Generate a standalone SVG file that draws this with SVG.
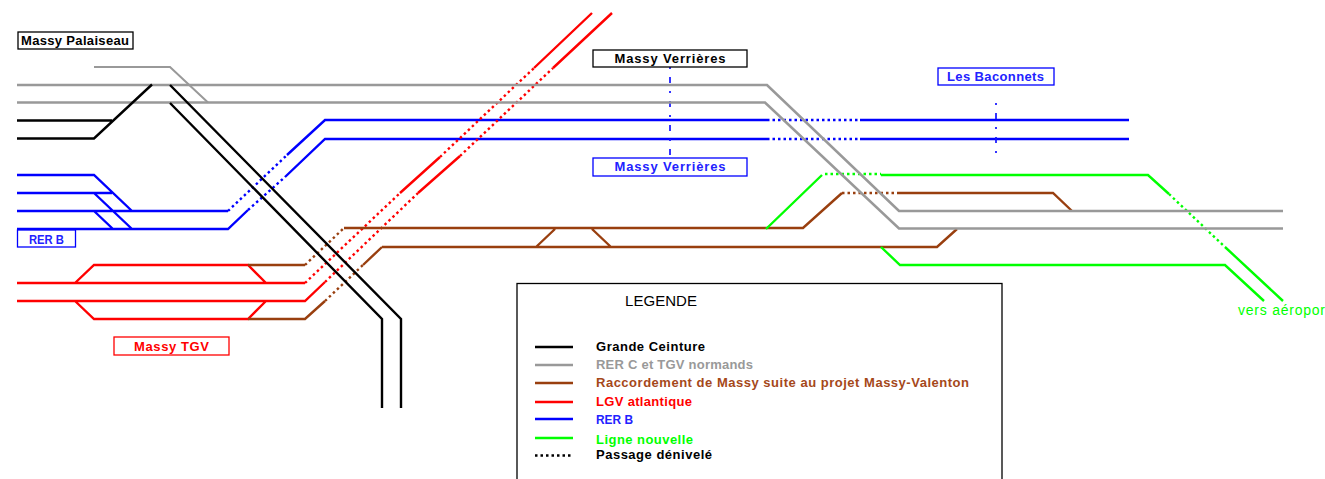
<svg xmlns="http://www.w3.org/2000/svg" width="1325" height="479" viewBox="0 0 1325 479">
<style>
text{font-family:"Liberation Sans",Arial,sans-serif;font-size:13px;font-weight:bold}
path,line{fill:none;stroke-width:2.4}
.box{fill:#fff;stroke-width:1.3}
.d{stroke-dasharray:2.5 3}
.k{stroke:#000}.g{stroke:#999;stroke-width:2.6}.b{stroke:#0000ff}.r{stroke:#ff0000}.n{stroke:#993f0f}.v{stroke:#00ff00}
.tk{fill:#000}.tg{fill:#999}.tb{fill:#2222ff}.tr{fill:#ff0000}.tn{fill:#a5481a}.tv{fill:#00ff00}
.dd{stroke:#1111ff;stroke-width:1.7;stroke-dasharray:2 8 6 8}
</style>
<g id="connectors">
<g id="rer-b">
<path class="b" d="M17 175H94L132 211M17 193H112M94 193L132 229M17 211H228M94 211L113 229M17 229H228L248 210"/>
<path class="b d" d="M228 211L287 155M248 210L285 177M767 120H860M767 139H860"/>
<path class="b" d="M287 155L325 120H767M285 177L325 139H767M860 120H1129M860 139H1129"/>
<path class="dd" d="M670 67V158M996 103V158"/>
</g>
<g id="lgv">
<path class="r" d="M17 283H305M17 301H305L325 282M75 283L94 265H248L266 283M75 301L94 319H248L266 301"/>
<path class="r d" d="M305 283L400 193M325 282L418 193M440 157L534 68M460 156L553 68"/>
<path class="r" d="M400 193L440 157M418 193L460 156M534 68L592 13M553 68L612 13"/>
</g>
<g id="raccordement">
<path class="n" d="M248 265H305M248 319H305L325 301M344 228H803L842 193M382 247H937L957 229M363 265L382 247M536 247L555 229M592 229L611 247M897 193H1053L1072 211"/>
<path class="n d" d="M305 265L344 228M325 301L363 265M842 193H897"/>
</g>
<g id="ligne-nouvelle">
<path class="v" d="M766 229L822 175M881 175H1148L1169 194M1225 247L1283 301M881 247L900 265H1225L1264 301"/>
<path class="v d" d="M825 174H881M1169 194L1225 247"/>
</g>
<g id="rer-c">
<path class="g" d="M17 85H767L899 211H1283M17 102.500H765L899 228.500H1283"/>
<path class="g" style="stroke-width:2" d="M94 67H170L208 102.500"/>
</g>
<g id="grande-ceinture">
<path class="k" d="M17 120.500H112M17 138.500H94L152 84.500M170 85L401 319V408M170 103L382 319V408"/>
</g>
</g>
<g id="massy-palaiseau"><rect class="box k" x="18" y="32" width="115" height="17"/><text class="tk" x="21" y="45" textLength="108">Massy Palaiseau</text></g>
<g id="massy-verrieres-1"><rect class="box k" x="593" y="50" width="154" height="17"/><text class="tk" x="614.500" y="63" textLength="111">Massy Verrières</text></g>
<g id="massy-verrieres-2"><rect class="box b" x="593" y="158" width="154" height="18"/><text class="tb" x="614.500" y="171" textLength="111">Massy Verrières</text></g>
<g id="les-baconnets"><rect class="box b" x="938" y="68" width="116" height="17"/><text class="tb" x="947" y="81" textLength="97">Les Baconnets</text></g>
<g id="rer-b-label"><rect class="box b" x="17.500" y="230" width="58" height="17"/><text class="tb" x="29" y="244" textLength="35" lengthAdjust="spacingAndGlyphs">RER B</text></g>
<g id="massy-tgv"><rect class="box r" x="114" y="337" width="115" height="18"/><text class="tr" x="134" y="351" textLength="75">Massy TGV</text></g>
<g id="vers-aeroport"><text class="tv" x="1238" y="315" style="font-size:14px;font-weight:normal" textLength="87">vers aéropor</text></g>
<g id="legend">
<rect class="box k" x="517" y="283.500" width="485" height="200"/>
<text x="625" y="306" style="font-size:15px;font-weight:normal" class="tk" textLength="72">LEGENDE</text>
<line class="k" x1="535" x2="573" y1="347" y2="347"/><text class="tk" x="596" y="351" textLength="109">Grande Ceinture</text>
<line class="g" x1="535" x2="573" y1="365" y2="365"/><text class="tg" x="596" y="369" textLength="157">RER C et TGV normands</text>
<line class="n" x1="535" x2="573" y1="383" y2="383"/><text class="tn" x="596" y="387" textLength="373">Raccordement de Massy suite au projet Massy-Valenton</text>
<line class="r" x1="535" x2="573" y1="402" y2="402"/><text class="tr" x="596" y="406" textLength="96">LGV atlantique</text>
<line class="b" x1="535" x2="573" y1="419" y2="419"/><text class="tb" x="596" y="424" textLength="37" lengthAdjust="spacingAndGlyphs">RER B</text>
<line class="v" x1="535" x2="573" y1="438" y2="438"/><text class="tv" x="596" y="444" textLength="97">Ligne nouvelle</text>
<line class="k d" x1="535" x2="572" y1="455.500" y2="455.500"/><text class="tk" x="596" y="459" textLength="116">Passage dénivelé</text>
</g>
</svg>
